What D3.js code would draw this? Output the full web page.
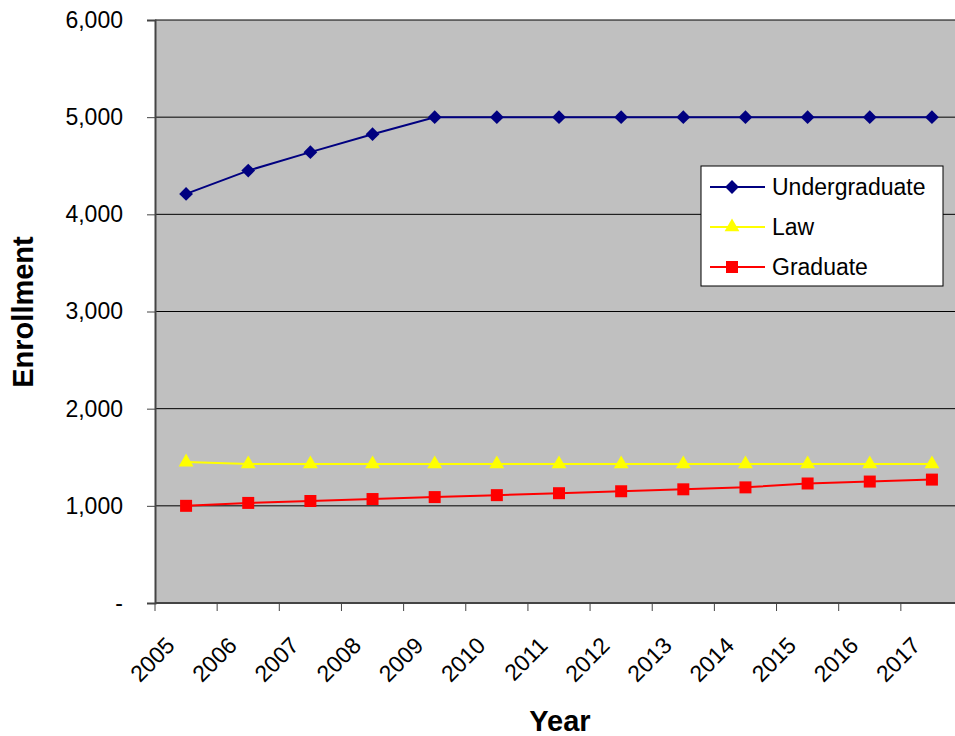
<!DOCTYPE html>
<html>
<head>
<meta charset="utf-8">
<script src="https://cdn.jsdelivr.net/npm/d3@7"></script>
<style>
html,body{margin:0;padding:0;background:#fff;}
svg{display:block;}
text{font-family:"Liberation Sans",Arial,sans-serif;fill:#000;}
</style>
</head>
<body>
<svg id="chart" width="955" height="736"></svg>
<script>
const years = ["2005","2006","2007","2008","2009","2010","2011","2012","2013","2014","2015","2016","2017"];
const undergraduate = [4210,4450,4640,4825,5000,5000,5000,5000,5000,5000,5000,5000,5000];
const law = [1450,1430,1430,1430,1430,1430,1430,1430,1430,1430,1430,1430,1430];
const graduate = [1000,1030,1050,1070,1090,1110,1130,1150,1170,1190,1230,1250,1270];
const yTicks = [0,1000,2000,3000,4000,5000,6000];
const seriesNames = ["Undergraduate","Law","Graduate"];

const svg = d3.select("#chart");
const pLeft = 155, pTop = 20, pBottom = 603, pRight = 963;

const x = d3.scaleBand().domain(years).range([pLeft, pRight]).padding(0);
const y = d3.scaleLinear().domain([0, 6000]).range([pBottom, pTop]);
const cx = d => x(d) + x.bandwidth() / 2;

// plot background
svg.append("rect").attr("x", pLeft).attr("y", pTop)
  .attr("width", pRight - pLeft).attr("height", pBottom - pTop)
  .attr("fill", "#C0C0C0");

// gridlines
svg.append("g").selectAll("line").data(yTicks.filter(t => t > 0)).join("line")
  .attr("x1", pLeft).attr("x2", pRight)
  .attr("y1", d => y(d)).attr("y2", d => y(d))
  .attr("stroke", "#000").attr("stroke-width", 1);

// y axis
const yAxis = svg.append("g").attr("transform", `translate(${pLeft},0)`)
  .call(d3.axisLeft(y).tickValues(yTicks).tickSize(8).tickPadding(24)
    .tickFormat(d => d === 0 ? "-" : d3.format(",")(d)));
yAxis.select(".domain").attr("stroke", "#444").attr("stroke-width", 2);
yAxis.selectAll(".tick line").attr("stroke", "#444");
yAxis.selectAll(".tick text").attr("font-size", 23).attr("fill", "#000")
  .style("font-family", "'Liberation Sans',Arial,sans-serif");

// x axis
const xAxis = svg.append("g").attr("transform", `translate(0,${pBottom})`);
xAxis.append("line").attr("x1", pLeft).attr("x2", pRight).attr("y1", 0).attr("y2", 0)
  .attr("stroke", "#444").attr("stroke-width", 2);
xAxis.selectAll("line.tk").data(years).join("line").attr("class", "tk")
  .attr("x1", d => x(d)).attr("x2", d => x(d)).attr("y1", 0).attr("y2", 8)
  .attr("stroke", "#444").attr("stroke-width", 1);
svg.append("g").selectAll("text").data(years).join("text")
  .attr("transform", d => `translate(${cx(d) - 10},${pBottom + 44}) rotate(-45)`)
  .attr("text-anchor", "end").attr("font-size", 23).text(d => d);

// series
const series = [
  {name: "Undergraduate", values: undergraduate, color: "#000080", marker: "diamond"},
  {name: "Law", values: law, color: "#FFFF00", marker: "triangle"},
  {name: "Graduate", values: graduate, color: "#FF0000", marker: "square"}
];
const symbolFor = (m) => {
  if (m === "diamond") return d3.symbol().type(d3.symbolSquare).size(95);
  if (m === "triangle") return d3.symbol().type(d3.symbolTriangle).size(95);
  return d3.symbol().type(d3.symbolSquare).size(144);
};
const line = d3.line().x((d, i) => cx(years[i])).y(d => y(d));

series.forEach(s => {
  const g = svg.append("g");
  g.append("path").datum(s.values).attr("d", line)
    .attr("fill", "none").attr("stroke", s.color).attr("stroke-width", 2);
  g.selectAll("path.m").data(s.values).join("path").attr("class", "m")
    .attr("d", symbolFor(s.marker)())
    .attr("transform", (d, i) => `translate(${cx(years[i])},${y(d)})` + (s.marker === "diamond" ? " rotate(45)" : ""))
    .attr("fill", s.color);
});

// legend
const lg = svg.append("g");
lg.append("rect").attr("x", 701).attr("y", 166).attr("width", 242).attr("height", 120)
  .attr("fill", "#fff").attr("stroke", "#000").attr("stroke-width", 1);
series.forEach((s, i) => {
  const yy = 187 + i * 40;
  lg.append("line").attr("x1", 710).attr("x2", 765).attr("y1", yy).attr("y2", yy)
    .attr("stroke", s.color).attr("stroke-width", 2);
  lg.append("path").attr("d", symbolFor(s.marker)())
    .attr("transform", `translate(732,${yy})` + (s.marker === "diamond" ? " rotate(45)" : ""))
    .attr("fill", s.color);
  lg.append("text").attr("x", 772).attr("y", yy + 8).attr("font-size", 23).text(seriesNames[i]);
});

// axis titles
svg.append("text").attr("transform", "translate(33,312) rotate(-90)")
  .attr("text-anchor", "middle").attr("font-size", 29).attr("font-weight", "bold").text("Enrollment");
svg.append("text").attr("x", 560).attr("y", 731)
  .attr("text-anchor", "middle").attr("font-size", 29).attr("font-weight", "bold").text("Year");
</script>
</body>
</html>
